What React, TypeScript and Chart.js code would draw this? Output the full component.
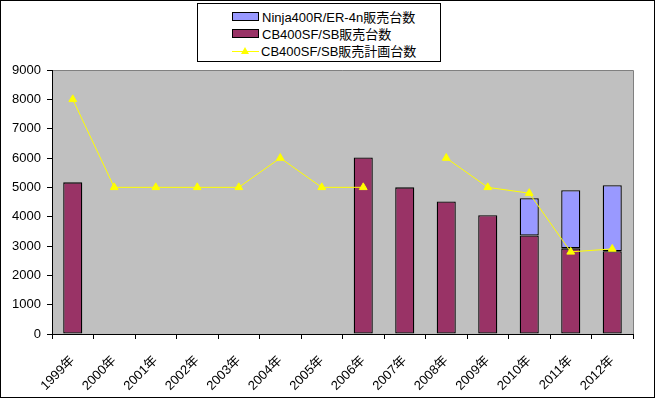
import React, { useEffect, useRef } from "react";
import { Chart, registerables } from "chart.js";

Chart.register(...registerables);

const categories = ["1999年", "2000年", "2001年", "2002年", "2003年", "2004年", "2005年", "2006年", "2007年", "2008年", "2009年", "2010年", "2011年", "2012年"];
const ninjaSales = [null, null, null, null, null, null, null, null, null, null, null, 1270, 1980, 2250];
const cbSales = [5170, null, null, null, null, null, null, 6020, 5000, 4520, 4050, 3360, 2920, 2820];
const cbPlan = [8000, 5000, 5000, 5000, 5000, 6000, 5000, 5000, null, 6000, 5000, 4800, 2800, 2900];
const yTicks = [0, 1000, 2000, 3000, 4000, 5000, 6000, 7000, 8000, 9000];

const legendLabels = ["Ninja400R/ER-4n販売台数", "CB400SF/SB販売台数", "CB400SF/SB販売計画台数"];

const FONT = "'Liberation Sans', 'Noto Sans CJK JP', sans-serif";

const bgPlugin = {
  id: "bgPlugin",
  beforeDraw(chart: any) {
    const { ctx, chartArea: a, width, height } = chart;
    ctx.save();
    ctx.fillStyle = "#ffffff";
    ctx.fillRect(0, 0, width, height);
    ctx.fillStyle = "#C0C0C0";
    ctx.fillRect(a.left, a.top, a.right - a.left, a.bottom - a.top);
    ctx.strokeStyle = "#808080";
    ctx.lineWidth = 1;
    ctx.beginPath();
    ctx.moveTo(a.left, a.top + 0.5);
    ctx.lineTo(a.right + 0.5, a.top + 0.5);
    ctx.lineTo(a.right + 0.5, a.bottom);
    ctx.stroke();
    ctx.restore();
  },
};

export default function App() {
  const ref = useRef<HTMLCanvasElement>(null);
  useEffect(() => {
    if (!ref.current) return;
    const chart = new Chart(ref.current, {
      type: "bar",
      data: {
        labels: categories,
        datasets: [
          {
            type: "line",
            label: legendLabels[2],
            data: cbPlan,
            borderColor: "#FFFF00",
            backgroundColor: "#FFFF00",
            borderWidth: 1,
            pointStyle: "triangle",
            pointRadius: 4.5,
            pointBackgroundColor: "#FFFF00",
            pointBorderColor: "#FFFF00",
            spanGaps: false,
            tension: 0,
            stack: "line",
            order: 0,
          } as any,
          {
            label: legendLabels[1],
            data: cbSales,
            backgroundColor: "#993366",
            borderColor: "#000000",
            borderWidth: 1.3,
            borderSkipped: false,
            stack: "bars",
            barPercentage: 0.46,
            categoryPercentage: 1,
            order: 1,
          },
          {
            label: legendLabels[0],
            data: ninjaSales,
            backgroundColor: "#9999FF",
            borderColor: "#000000",
            borderWidth: 1.3,
            borderSkipped: false,
            stack: "bars",
            barPercentage: 0.46,
            categoryPercentage: 1,
            order: 1,
          },
        ],
      },
      options: {
        animation: false,
        responsive: false,
        maintainAspectRatio: false,
        layout: { padding: { top: 70, right: 22, left: 0, bottom: 0 } },
        plugins: { legend: { display: false }, tooltip: { enabled: false } },
        scales: {
          x: {
            stacked: true,
            grid: { display: true, drawOnChartArea: false, drawTicks: true, tickLength: 5, color: "#000000", offset: true },
            border: { display: true, color: "#000000", width: 1 },
            ticks: {
              autoSkip: false,
              minRotation: 45,
              maxRotation: 45,
              padding: 14,
              color: "#000000",
              font: { family: FONT, size: 13 },
            },
            afterFit: (s: any) => {
              s.height = 65;
            },
          },
          y: {
            stacked: true,
            min: 0,
            max: 9000,
            afterBuildTicks: (s: any) => {
              s.ticks = yTicks.map((v) => ({ value: v }));
            },
            grid: { display: true, drawOnChartArea: false, drawTicks: true, tickLength: 5, color: "#000000" },
            border: { display: true, color: "#000000", width: 1 },
            ticks: {
              padding: 6,
              color: "#000000",
              font: { family: FONT, size: 13 },
              callback: (v: any) => String(v),
            },
            afterFit: (s: any) => {
              s.width = 52;
            },
          },
        },
      },
      plugins: [bgPlugin],
    });
    return () => chart.destroy();
  }, []);

  const itemStyle = (top: number): React.CSSProperties => ({
    position: "absolute",
    left: 0,
    top,
    height: 17,
    display: "flex",
    alignItems: "center",
    whiteSpace: "nowrap",
  });

  return (
    <div style={{ position: "fixed", left: 0, top: 0, width: 655, height: 399, background: "#fff" }}>
      <canvas ref={ref} width={655} height={399} style={{ position: "absolute", left: 0, top: 0, width: 655, height: 399 }} />
      <div
        style={{
          position: "absolute",
          left: 0,
          top: 0,
          width: 655,
          height: 398,
          border: "1px solid #000",
          boxSizing: "border-box",
          pointerEvents: "none",
        }}
      />
      <div
        style={{
          position: "absolute",
          left: 197,
          top: 3,
          width: 244,
          height: 59,
          border: "1px solid #000",
          boxSizing: "border-box",
          background: "#fff",
          fontFamily: FONT,
          fontSize: 13,
          color: "#000",
        }}
      >
        <div style={{ position: "absolute", left: 34, top: 0, width: 210, height: 59 }}>
          <div style={itemStyle(4)}>
            <span style={{ display: "inline-block", width: 25, height: 7, background: "#9999FF", border: "1px solid #000", marginRight: 3 }} />
            <span>{legendLabels[0]}</span>
          </div>
          <div style={itemStyle(21)}>
            <span style={{ display: "inline-block", width: 25, height: 7, background: "#993366", border: "1px solid #000", marginRight: 3 }} />
            <span>{legendLabels[1]}</span>
          </div>
          <div style={itemStyle(38)}>
            <span style={{ position: "relative", display: "inline-block", width: 27, height: 9, marginRight: 2 }}>
              <span style={{ position: "absolute", left: 0, top: 5, width: 27, height: 1, background: "#FFFF00" }} />
              <span
                style={{
                  position: "absolute",
                  left: 9,
                  top: 1,
                  width: 0,
                  height: 0,
                  borderLeft: "4px solid transparent",
                  borderRight: "4px solid transparent",
                  borderBottom: "7px solid #FFFF00",
                }}
              />
            </span>
            <span>{legendLabels[2]}</span>
          </div>
        </div>
      </div>
    </div>
  );
}
